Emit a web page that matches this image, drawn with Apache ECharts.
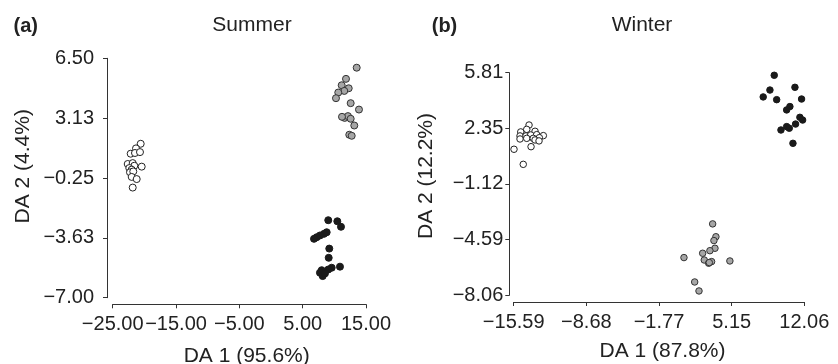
<!DOCTYPE html>
<html>
<head>
<meta charset="utf-8">
<script src="https://cdn.jsdelivr.net/npm/echarts@6/dist/echarts.min.js"></script>
<style>
  html, body { margin: 0; padding: 0; background: #fff; }
  #chart { width: 838px; height: 364px; }
</style>
</head>
<body>
<div id="chart"></div>
<script>
// DA scores, [DA1, DA2]
const summerWhite = [
  [-20.58, 1.68], [-21.32, 1.42], [-22.16, 1.12], [-21.48, 1.16], [-20.69, 1.21],
  [-22.63, 0.54], [-21.84, 0.59], [-21.59, 0.44], [-20.42, 0.39], [-22.38, 0.31],
  [-22.0, 0.22], [-22.27, 0.07], [-21.75, 0.12], [-22.0, -0.19], [-21.21, -0.31],
  [-21.84, -0.79],
];
const summerGray = [
  [13.53, 5.97], [11.84, 5.34], [11.16, 4.98], [12.27, 4.81], [11.57, 4.66],
  [10.62, 4.57], [10.26, 4.25], [12.58, 3.97], [13.89, 3.61], [11.63, 3.14],
  [12.15, 3.24], [12.58, 3.09], [13.15, 2.71], [12.36, 2.19], [12.74, 2.13],
  [11.21, 3.2],
];
const summerBlack = [
  [9.04, -2.63], [10.47, -2.69], [11.05, -3.0], [8.79, -3.31], [8.36, -3.4],
  [7.73, -3.49], [7.21, -3.59], [6.79, -3.68], [9.2, -4.23], [9.11, -4.75],
  [10.89, -5.25], [9.58, -5.31], [9.04, -5.41], [8.0, -5.45], [7.73, -5.59],
  [8.16, -5.78], [8.52, -5.63],
];
const winterWhite = [
  [-14.13, 2.55], [-14.35, 2.28], [-14.92, 2.12], [-13.56, 2.16], [-14.99, 1.87],
  [-14.42, 1.87], [-13.97, 1.93], [-13.4, 1.95], [-12.77, 1.89], [-14.99, 1.68],
  [-14.35, 1.72], [-13.73, 1.72], [-13.15, 1.76], [-13.56, 1.62], [-13.18, 1.56],
  [-15.56, 1.04], [-13.94, 1.2], [-14.68, 0.1],
];
const winterGray = [
  [3.34, -3.61], [3.65, -4.41], [3.46, -4.65], [3.56, -5.13], [3.08, -5.28],
  [2.39, -5.44], [0.61, -5.71], [2.54, -5.86], [3.24, -5.96], [2.96, -6.06],
  [4.98, -5.92], [1.63, -7.23], [2.04, -7.79], [3.02, -6.02],
];
const winterBlack = [
  [9.2, 5.65], [8.79, 4.73], [11.17, 4.9], [8.15, 4.3], [9.43, 4.13],
  [11.8, 4.17], [10.69, 3.7], [10.38, 3.49], [11.64, 3.03], [11.9, 2.86],
  [11.23, 2.61], [10.38, 2.45], [10.63, 2.35], [9.84, 2.24], [10.98, 1.41],
];

const summerXTicks = [-25, -15, -5, 5, 15];
const summerYTicks = [-7.0, -3.63, -0.25, 3.13, 6.5];
const winterXTicks = [-15.59, -8.68, -1.77, 5.15, 12.06];
const winterYTicks = [-8.06, -4.59, -1.12, 2.35, 5.81];

const font = "Liberation Sans, Arial, sans-serif";
const ink = "#222";

const fmt = (v) => v.toFixed(2).replace("-", "\u2212");

function makeAxis(ticks, gridIndex, offset, margin) {
  return {
    type: "value",
    gridIndex,
    min: ticks[0],
    max: ticks[ticks.length - 1],
    offset,
    splitLine: { show: false },
    axisLine: { show: true, onZero: false, lineStyle: { color: "#333", width: 1 } },
    axisTick: { show: true, length: 4, customValues: ticks, lineStyle: { color: "#333" } },
    axisLabel: {
      customValues: ticks,
      formatter: fmt,
      margin,
      color: ink,
      fontFamily: font,
      fontSize: 20,
    },
  };
}

function scatter(name, data, idx, fill, border, size) {
  return {
    name,
    type: "scatter",
    xAxisIndex: idx,
    yAxisIndex: idx,
    data,
    symbolSize: size,
    itemStyle: { color: fill, borderColor: border, borderWidth: 1, opacity: 1 },
  };
}

function label(text, x, y, opts) {
  return {
    type: "text",
    x,
    y,
    rotation: (opts && opts.rotation) || 0,
    style: {
      text,
      x: 0,
      y: 0,
      align: "center",
      verticalAlign: "middle",
      fill: ink,
      font: ((opts && opts.bold) ? "bold " : "") + ((opts && opts.size) || 21) + "px " + font,
    },
  };
}

const chart = echarts.init(document.getElementById("chart"), null, { renderer: "canvas" });

chart.setOption({
  backgroundColor: "#fff",
  animation: false,
  grid: [
    { left: 112.7, top: 58.3, width: 253.3, height: 239.4 },
    { left: 513.7, top: 72.7, width: 290.6, height: 222.6 },
  ],
  xAxis: [
    makeAxis(summerXTicks, 0, 6.6, 10),
    makeAxis(winterXTicks, 1, 6.7, 10),
  ],
  yAxis: [
    makeAxis(summerYTicks, 0, 5.7, 13),
    makeAxis(winterYTicks, 1, 4.4, 6),
  ],
  series: [
    scatter("Summer white", summerWhite, 0, "#fff", "#222", 7),
    scatter("Summer grey", summerGray, 0, "#a6a6a6", "#333", 7),
    scatter("Summer black", summerBlack, 0, "#1a1a1a", "#1a1a1a", 7),
    scatter("Winter white", winterWhite, 1, "#fff", "#222", 6.5),
    scatter("Winter grey", winterGray, 1, "#a6a6a6", "#333", 6.5),
    scatter("Winter black", winterBlack, 1, "#1a1a1a", "#1a1a1a", 6.5),
  ],
  graphic: [
    label("(a)", 25.7, 26, { bold: true, size: 20 }),
    label("Summer", 252, 25),
    label("(b)", 444.5, 26, { bold: true, size: 20 }),
    label("Winter", 642, 25),
    label("DA 1 (95.6%)", 246.7, 356.5),
    label("DA 1 (87.8%)", 662.5, 351),
    label("DA 2 (4.4%)", 23, 166.3, { rotation: Math.PI / 2 }),
    label("DA 2 (12.2%)", 426, 176, { rotation: Math.PI / 2 }),
  ],
});
</script>
</body>
</html>
